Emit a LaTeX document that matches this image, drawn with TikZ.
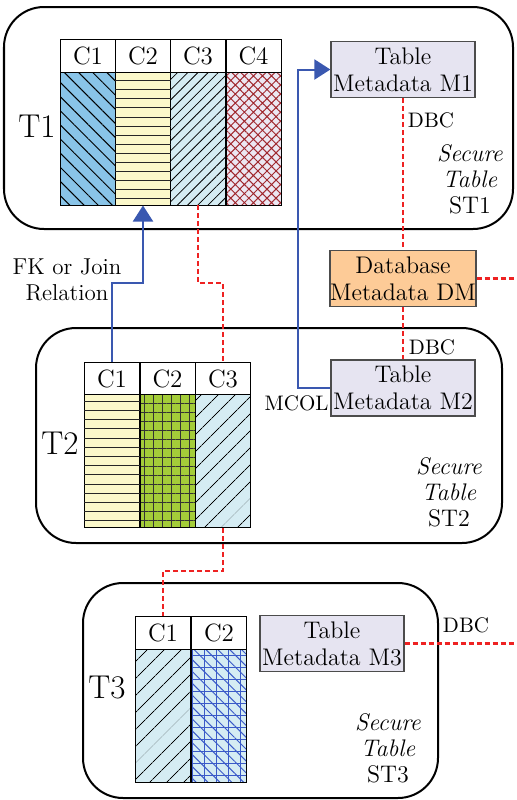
\documentclass[tikz,border=0pt]{standalone}
\usepackage{tikz}
\usetikzlibrary{arrows.meta,patterns.meta}

\definecolor{skyblue}{RGB}{137,196,232}
\definecolor{paleyellow}{RGB}{251,248,202}
\definecolor{palecyan}{RGB}{213,236,243}
\definecolor{palelav}{RGB}{236,231,242}
\definecolor{darkred}{RGB}{160,40,46}
\definecolor{leafgreen}{RGB}{164,205,57}
\definecolor{gridblue}{RGB}{58,90,200}
\definecolor{metalav}{RGB}{230,228,241}
\definecolor{dborange}{RGB}{253,203,151}
\definecolor{fkblue}{RGB}{58,88,176}
\definecolor{lnkred}{RGB}{238,34,34}

\tikzset{
	secbox/.style={draw, line width=1pt, rounded corners=20pt, inner sep=0},
	colhead/.style={draw, fill=white, line width=.5pt, minimum width=27.5pt, minimum height=16.5pt, inner sep=0, font=\fontsize{12.5}{14}\selectfont},
	colbody/.style={draw, line width=.5pt, minimum width=27.5pt, minimum height=66.5pt, inner sep=0},
	metabox/.style={draw=black!70, line width=.6pt, fill=metalav, minimum width=72pt, minimum height=28pt, inner sep=0, align=center, font=\fontsize{12}{13.5}\selectfont},
	tlabel/.style={font=\fontsize{16.5}{18}\selectfont},
	small/.style={font=\fontsize{10.5}{12}\selectfont, inner sep=0},
	sectext/.style={align=center, font=\fontsize{12}{13}\selectfont},
	dbcline/.style={draw=lnkred, line width=1.1pt, dash pattern=on 2.5pt off 1.5pt},
	fkline/.style={draw=fkblue, line width=1pt, -{Triangle[length=8pt,width=10pt]}},
	rowline/.style={draw=black!85, line width=.5pt},
	bluediag/.style={preaction={fill=skyblue}, pattern={Lines[angle=-45,distance=5pt,line width=.5pt]}},
	yellowrows/.style={fill=paleyellow},
	cyandiag/.style={preaction={fill=palecyan}, pattern={Lines[angle=45,distance=3.6pt,line width=.4pt]}},
	cyanwide/.style={preaction={fill=palecyan}, pattern={Lines[angle=45,distance=6.5pt,line width=.5pt]}},
	reddiamond/.style={preaction={fill=palelav}, pattern={Hatch[angle=45,distance=3.2pt,line width=.5pt]}, pattern color=darkred},
	greengrid/.style={preaction={fill=leafgreen}, pattern={Hatch[angle=0,distance=4.5pt,line width=.5pt]}, pattern color=black!80},
	bluegrid/.style={preaction={fill=palecyan}, preaction={pattern={Hatch[angle=0,distance=6pt,line width=.5pt]}, pattern color=gridblue}, pattern={Lines[angle=-45,distance=4.2pt,line width=.5pt]}, pattern color=gridblue}
}

\begin{document}
\begin{tikzpicture}[x=.5pt,y=-.5pt]
	\useasboundingbox (0,0) rectangle (516,800);
	% secure tables
	\node[secbox, minimum width=254.5pt, minimum height=111pt] (st1) at (258.5,118) {};
	\node[secbox, minimum width=233pt, minimum height=107.5pt] (st2) at (269,435.5) {};
	\node[secbox, minimum width=177.5pt, minimum height=107.5pt] (st3) at (260.5,690.5) {};

	% table T1
	\foreach \c/\x/\s in {1/88/bluediag,2/143/yellowrows,3/198/cyandiag,4/253.5/reddiamond}{
		\node[colhead] (t1h\c) at (\x,55.5) {C\c};
		\node[colbody,\s] (t1b\c) at (\x,138.5) {};
	}
	% table T2
	\foreach \c/\x/\s in {1/112/yellowrows,2/167.5/greengrid,3/223/cyanwide}{
		\node[colhead] (t2h\c) at (\x,378.5) {C\c};
		\node[colbody,\s] (t2b\c) at (\x,461) {};
	}
	% table T3
	\foreach \c/\x/\s in {1/163/cyanwide,2/219/bluegrid}{
		\node[colhead] (t3h\c) at (\x,633) {C\c};
		\node[colbody,\s] (t3b\c) at (\x,715.5) {};
	}
	% rows of the yellow columns
	\foreach \i in {1,...,14}{
		\draw[rowline] ([yshift=-\i*4.55pt]t1b2.north west) -- ([yshift=-\i*4.55pt]t1b2.north east);
		\draw[rowline] ([yshift=-\i*4.6pt+1pt]t2b1.north west) -- ([yshift=-\i*4.6pt+1pt]t2b1.north east);
	}
	\node[tlabel] (t1) at (37,126) {T1};
	\node[tlabel] (t2) at (60,443) {T2};
	\node[tlabel] (t3) at (107,688) {T3};

	% metadata
	\node[metabox] (m1) at (403,69.5) {Table\\Metadata M1};
	\node[metabox, fill=dborange] (dm) at (403,278.5) {Database\\Metadata DM};
	\node[metabox] (m2) at (403,388) {Table\\Metadata M2};
	\node[metabox] (m3) at (332,643.5) {Table\\Metadata M3};

	\node[sectext] (s1) at (470,179) {\textit{Secure}\\\textit{Table}\\ST1};
	\node[sectext] (s2) at (449,492) {\textit{Secure}\\\textit{Table}\\ST2};
	\node[sectext] (s3) at (388,748) {\textit{Secure}\\\textit{Table}\\ST3};

	\node[small] (dbc1) at (431,120) {DBC};
	\node[small] (dbc2) at (432,347) {DBC};
	\node[small] (dbc3) at (466,625) {DBC};
	\node[small, anchor=east] (mcol) at (329,403) {MCOL};
	\node[align=center, font=\fontsize{11.5}{13}\selectfont] (fk) at (67,280) {FK or Join\\Relation};

	\coordinate (fkbend) at (112,283);
	\coordinate (mcbend) at (298,388);
	\coordinate (j1) at (223,283);
	\coordinate (j2) at (163,571);
	\coordinate (dmout) at (516,278.5);
	\coordinate (m3out) at (516,643.5);

	\draw[dbcline] (m1) -- (dm);
	\draw[dbcline] (dm) -- (m2);
	\draw[dbcline] (dm) -- (dmout);
	\draw[dbcline] (m3) -- (m3out);
	\draw[dbcline] (t1b3.south) |- (j1) -- (t2h3.north);
	\draw[dbcline] (t2b3.south) |- (j2) -- (t3h1.north);

	\draw[fkline] (t2h1.north) -- (fkbend) -| (t1b2.south);
	\draw[fkline] (m2.west) -- (mcbend) |- (m1.west);
\end{tikzpicture}
\end{document}
